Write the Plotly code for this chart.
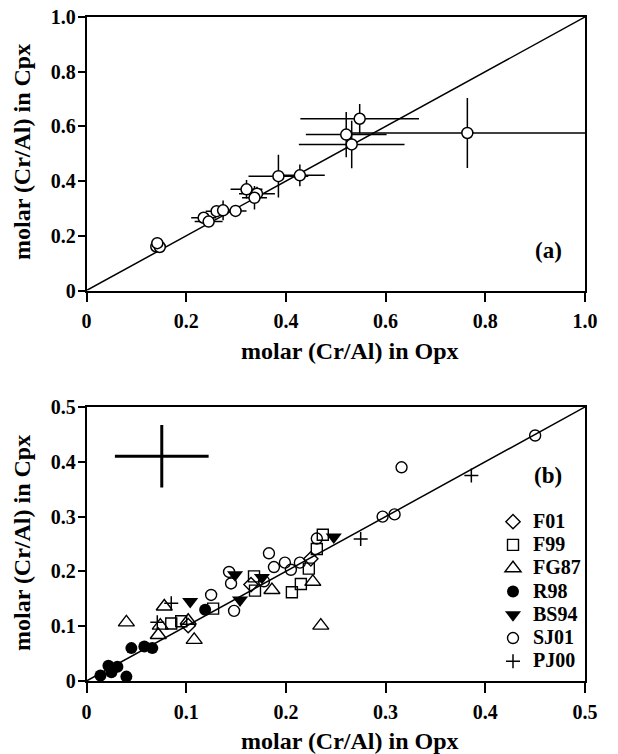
import plotly.graph_objects as go

# ---------------- Panel (a): Opx vs Cpx molar Cr/Al with error bars ----------------
a_opx = [0.140, 0.147, 0.142, 0.235, 0.245, 0.261, 0.274, 0.299, 0.321, 0.342, 0.337,
         0.385, 0.428, 0.548, 0.521, 0.532, 0.764]
a_cpx = [0.161, 0.159, 0.173, 0.266, 0.252, 0.290, 0.293, 0.291, 0.370, 0.354, 0.339,
         0.418, 0.421, 0.628, 0.570, 0.534, 0.576]
a_opx_err = [0.010, 0.010, 0.000, 0.025, 0.028, 0.022, 0.020, 0.022, 0.032, 0.036, 0.025,
             0.060, 0.050, 0.119, 0.081, 0.106, 0.237]
a_cpx_err = [0.000, 0.000, 0.000, 0.010, 0.010, 0.010, 0.036, 0.000, 0.034, 0.025, 0.043,
             0.078, 0.040, 0.054, 0.083, 0.087, 0.128]

# ---------------- Panel (b): literature data sets ----------------
f01_opx = [0.102, 0.165, 0.225]
f01_cpx = [0.101, 0.176, 0.223]

f99_opx = [0.085, 0.095, 0.127, 0.168, 0.169, 0.206, 0.215, 0.223, 0.231, 0.237]
f99_cpx = [0.105, 0.109, 0.132, 0.191, 0.165, 0.162, 0.177, 0.205, 0.241, 0.267]

fg87_opx = [0.040, 0.078, 0.074, 0.072, 0.102, 0.108, 0.186, 0.227, 0.235]
fg87_cpx = [0.107, 0.136, 0.101, 0.084, 0.110, 0.075, 0.166, 0.181, 0.101]

r98_opx = [0.014, 0.022, 0.025, 0.031, 0.040, 0.045, 0.058, 0.066, 0.119]
r98_cpx = [0.010, 0.028, 0.016, 0.026, 0.008, 0.060, 0.063, 0.060, 0.130]

bs94_opx = [0.104, 0.149, 0.154, 0.176, 0.248]
bs94_cpx = [0.145, 0.194, 0.148, 0.189, 0.263]

sj01_opx = [0.125, 0.145, 0.143, 0.148, 0.178, 0.183, 0.188, 0.199, 0.205, 0.214, 0.231,
            0.297, 0.309, 0.316, 0.450]
sj01_cpx = [0.157, 0.178, 0.199, 0.128, 0.182, 0.233, 0.208, 0.216, 0.203, 0.216, 0.260,
            0.300, 0.304, 0.390, 0.448]

pj00_opx = [0.071, 0.085, 0.275, 0.386]
pj00_cpx = [0.107, 0.142, 0.259, 0.375]

# typical analytical uncertainty cross
cross_opx = [0.0755]
cross_cpx = [0.410]
cross_opx_err = [0.047]
cross_cpx_err = [0.057]

a_range = [0, 1.0]
b_range = [0, 0.5]
a_ticks = [0, 0.2, 0.4, 0.6, 0.8, 1.0]
a_ticktext = ["0", "0.2", "0.4", "0.6", "0.8", "1.0"]
b_ticks = [0, 0.1, 0.2, 0.3, 0.4, 0.5]
b_ticktext = ["0", "0.1", "0.2", "0.3", "0.4", "0.5"]

FONT = "Liberation Serif, Times New Roman, serif"
W, H = 618, 754

fig = go.Figure()

# ---- panel (a)
fig.add_trace(go.Scatter(x=a_range, y=a_range, mode="lines",
                         line=dict(color="black", width=1.5),
                         showlegend=False, hoverinfo="skip", xaxis="x", yaxis="y"))
fig.add_trace(go.Scatter(
    x=a_opx, y=a_cpx, mode="markers", showlegend=False, xaxis="x", yaxis="y",
    marker=dict(symbol="circle", size=11, color="white", line=dict(color="black", width=1.5)),
    error_x=dict(type="data", array=a_opx_err, color="black", thickness=1.5, width=0),
    error_y=dict(type="data", array=a_cpx_err, color="black", thickness=1.5, width=0),
))

# ---- panel (b)
fig.add_trace(go.Scatter(x=b_range, y=b_range, mode="lines",
                         line=dict(color="black", width=1.5),
                         showlegend=False, hoverinfo="skip", xaxis="x2", yaxis="y2"))
fig.add_trace(go.Scatter(
    x=cross_opx, y=cross_cpx, mode="markers", showlegend=False, xaxis="x2", yaxis="y2",
    marker=dict(size=1, color="rgba(0,0,0,0)"),
    error_x=dict(type="data", array=cross_opx_err, color="black", thickness=3, width=0),
    error_y=dict(type="data", array=cross_cpx_err, color="black", thickness=3, width=0),
))

series = [
    ("F01", f01_opx, f01_cpx, dict(symbol="diamond-open", size=11, color="black", line=dict(width=1.4))),
    ("F99", f99_opx, f99_cpx, dict(symbol="square-open", size=11, color="black", line=dict(width=1.4))),
    ("FG87", fg87_opx, fg87_cpx, dict(symbol="triangle-up-open", size=14, color="black", line=dict(width=1.4))),
    ("R98", r98_opx, r98_cpx, dict(symbol="circle", size=12, color="black", line=dict(width=0))),
    ("BS94", bs94_opx, bs94_cpx, dict(symbol="triangle-down", size=14, color="black", line=dict(width=0))),
    ("SJ01", sj01_opx, sj01_cpx, dict(symbol="circle-open", size=11, color="black", line=dict(width=1.4))),
    ("PJ00", pj00_opx, pj00_cpx, dict(symbol="cross-thin", size=10, color="black",
                                      line=dict(width=1.5, color="black"))),
]
for name, xs, ys, mk in series:
    fig.add_trace(go.Scatter(x=xs, y=ys, mode="markers",
                             name='<span style="font-size:20px">%s</span>' % name,
                             marker=mk, xaxis="x2", yaxis="y2"))

def px_x(p):
    return p / W

def px_y(p):
    return 1 - p / H

xdom = [px_x(86.5), px_x(585)]
a_ydom = [px_y(290.5), px_y(17)]
b_ydom = [px_y(681), px_y(407)]

tickfont = dict(family=FONT, size=20, color="black", weight="bold")
axis_common = dict(showline=True, linecolor="black", linewidth=1.5, mirror=True,
                   tickwidth=1.5, tickcolor="black", ticks="outside",
                   showgrid=False, zeroline=False, tickfont=tickfont, automargin=False)
xaxis_extra = dict(ticklen=10, ticklabelstandoff=2)
yaxis_extra = dict(ticklen=7, ticklabelstandoff=-2)

fig.update_layout(
    width=W, height=H,
    margin=dict(l=0, r=0, t=0, b=0),
    paper_bgcolor="white", plot_bgcolor="white",
    font=dict(family=FONT, color="black"),
    xaxis=dict(domain=xdom, range=a_range, tickvals=a_ticks, ticktext=a_ticktext,
               anchor="y", **axis_common, **xaxis_extra),
    yaxis=dict(domain=a_ydom, range=a_range, tickvals=a_ticks, ticktext=a_ticktext,
               anchor="x", **axis_common, **yaxis_extra),
    xaxis2=dict(domain=xdom, range=b_range, tickvals=b_ticks, ticktext=b_ticktext,
                anchor="y2", **axis_common, **xaxis_extra),
    yaxis2=dict(domain=b_ydom, range=b_range, tickvals=b_ticks, ticktext=b_ticktext,
                anchor="x2", **axis_common, **yaxis_extra),
    legend=dict(x=px_x(493), y=px_y(505), xanchor="left", yanchor="top",
                bgcolor="rgba(0,0,0,0)", borderwidth=0, tracegroupgap=0,
                font=dict(family=FONT, size=15.6, color="black", weight="bold")),
    showlegend=True,
)

title_font = dict(family=FONT, size=24, color="black", weight="bold")
label_font = dict(family=FONT, size=23, color="black", weight="bold")
xt_center = (86.5 + 585) / 2 + 14
anns = [
    dict(text="molar (Cr/Al) in Opx", x=px_x(xt_center), y=px_y(351)),
    dict(text="molar (Cr/Al) in Opx", x=px_x(xt_center), y=px_y(741)),
    dict(text="molar (Cr/Al) in Cpx", x=px_x(22), y=px_y(152), textangle=-90),
    dict(text="molar (Cr/Al) in Cpx", x=px_x(22), y=px_y(543), textangle=-90),
]
for a in anns:
    fig.add_annotation(xref="paper", yref="paper", showarrow=False, font=title_font,
                       xanchor="center", yanchor="middle", **a)
fig.add_annotation(text="(a)", xref="paper", yref="paper", x=px_x(548), y=px_y(250),
                   showarrow=False, font=label_font, xanchor="center", yanchor="middle")
fig.add_annotation(text="(b)", xref="paper", yref="paper", x=px_x(548), y=px_y(475),
                   showarrow=False, font=label_font, xanchor="center", yanchor="middle")

fig.write_html("out.html", config={"displayModeBar": False},
               post_script="document.body.style.margin='0px';")
